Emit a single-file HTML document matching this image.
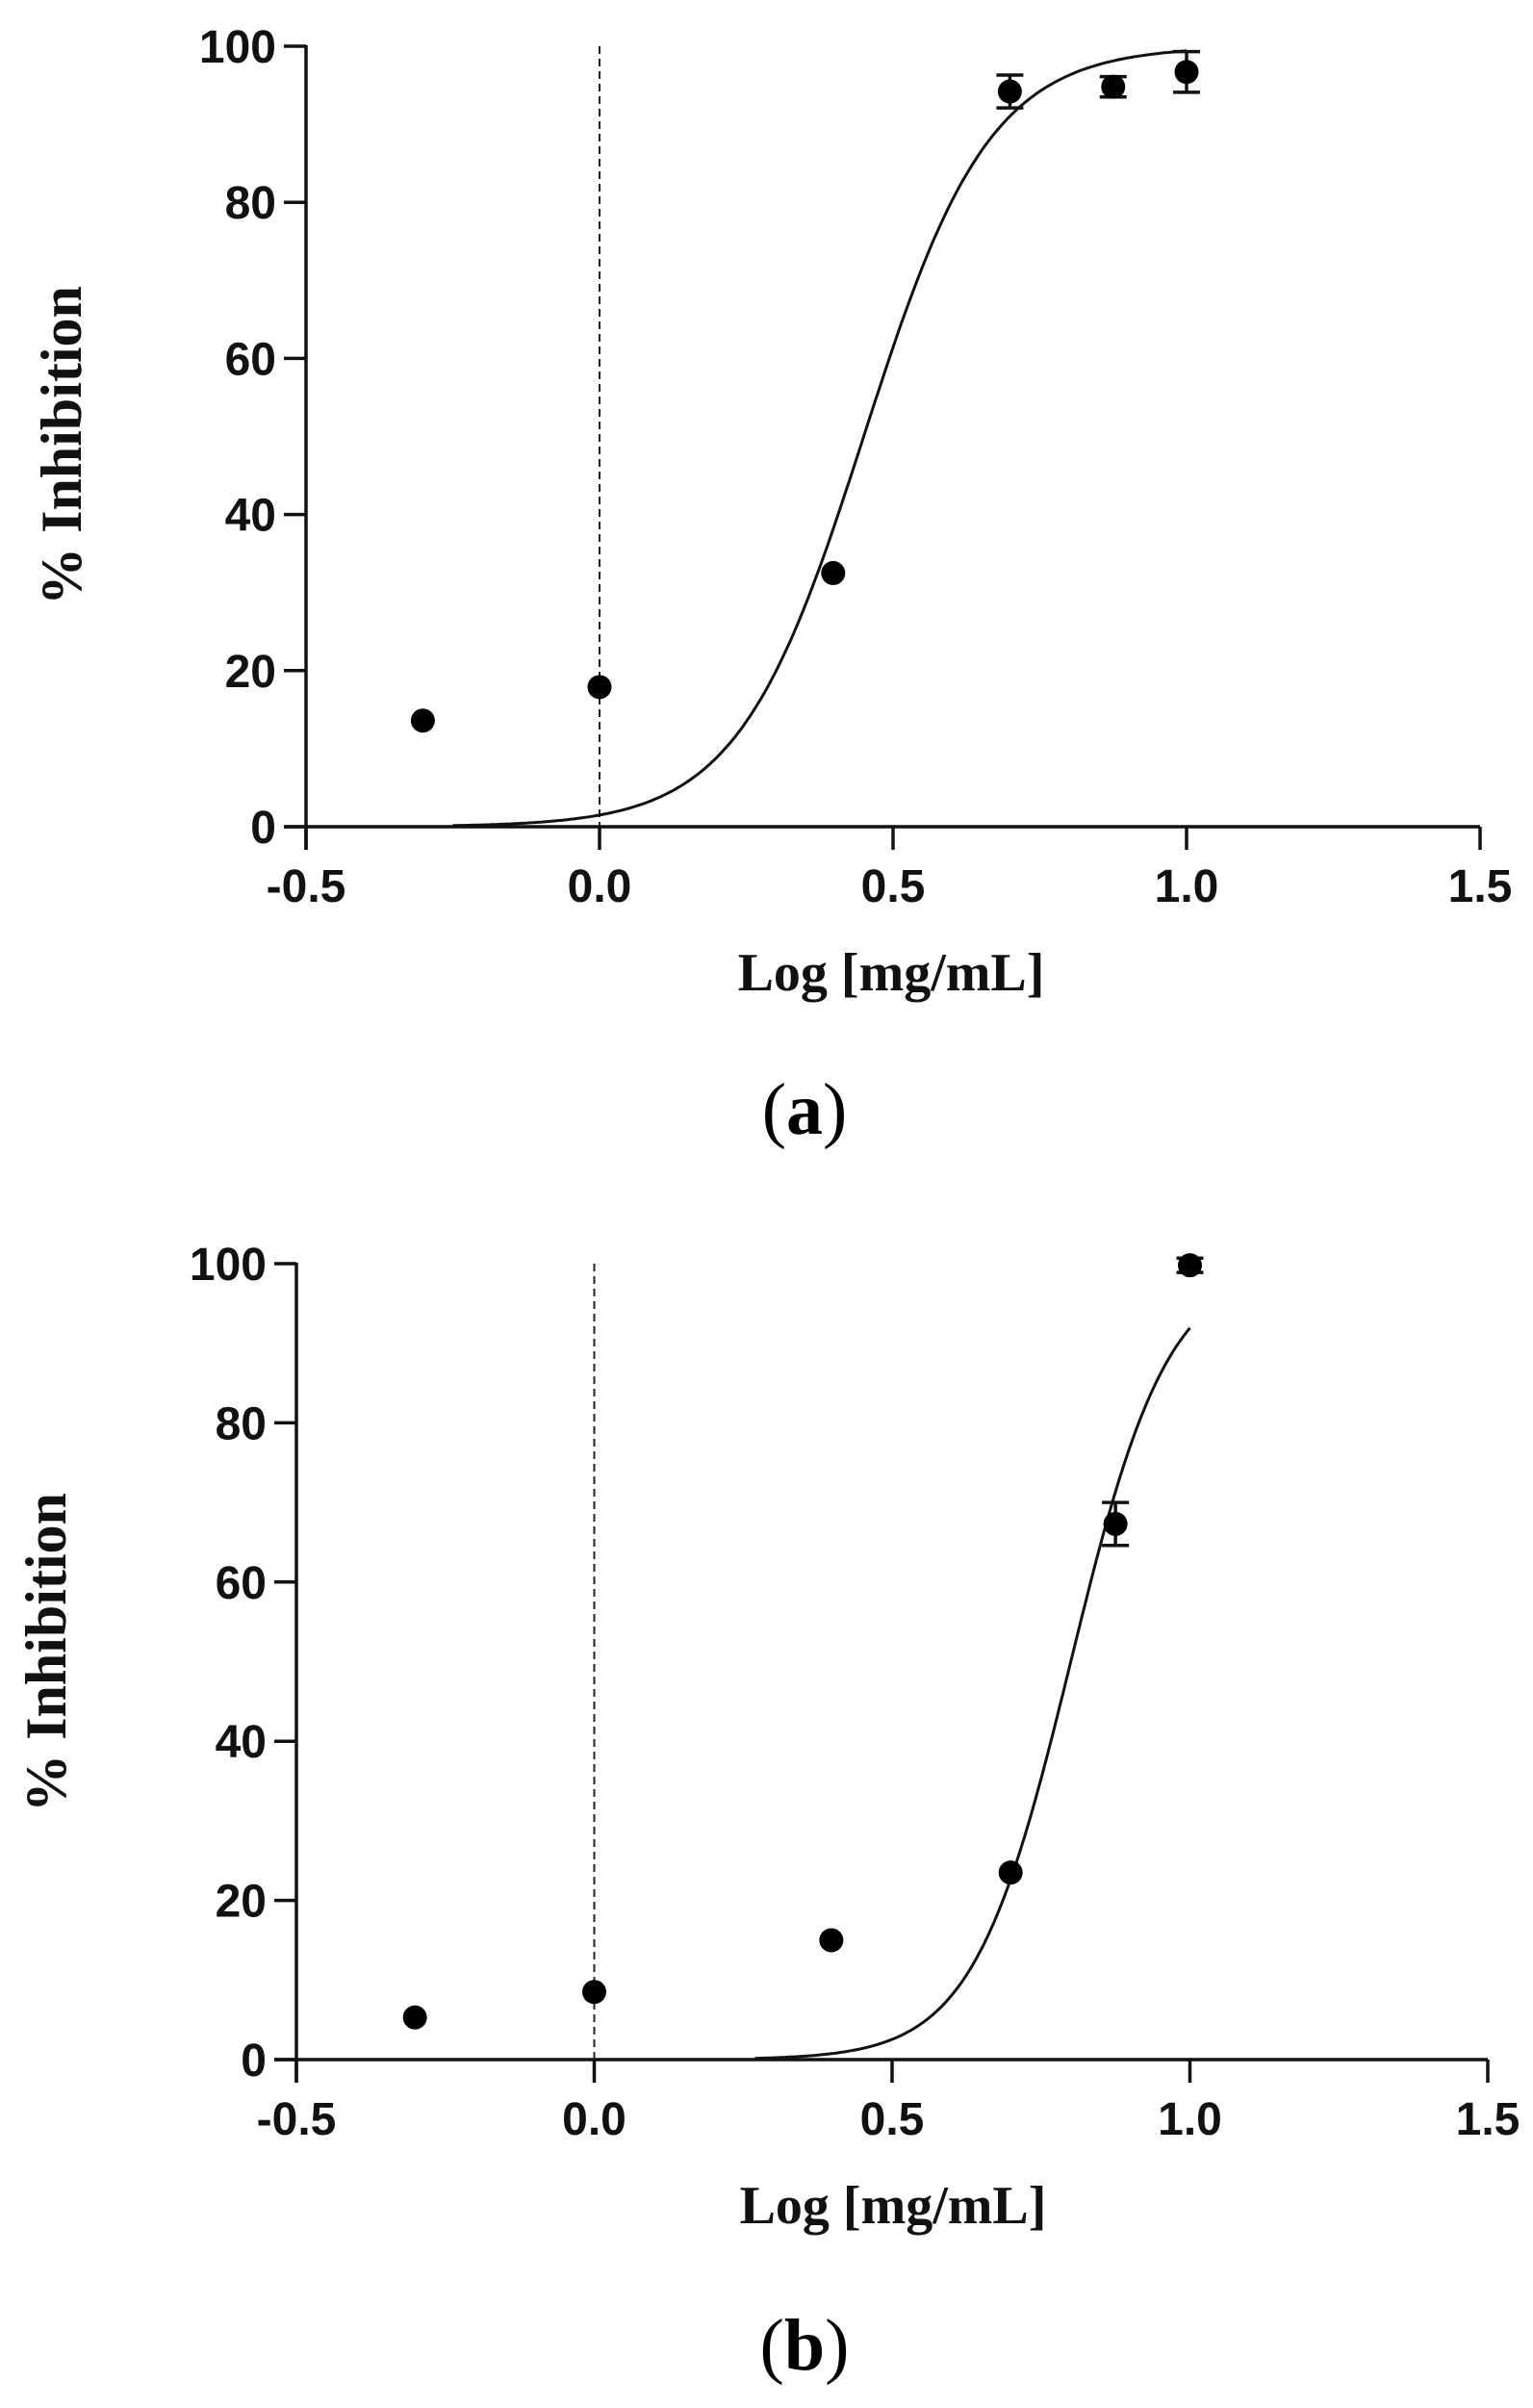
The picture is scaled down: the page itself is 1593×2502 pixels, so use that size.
<!DOCTYPE html>
<html><head><meta charset="utf-8"><style>
html,body{margin:0;padding:0;background:#fff;}
svg{display:block;}
</style></head><body>
<svg id="fig" width="1593" height="2502" viewBox="0 0 1593 2502" xmlns="http://www.w3.org/2000/svg"></svg>
<script>
// Panel (a) data
const xCatsA = [-0.301, 0, 0.398, 0.699, 0.875, 1.0];
const yValsA = [13.6, 17.9, 32.5, 94.2, 94.8, 96.7];
const yErrA  = [0, 0, 0, 2.1, 1.3, 2.6];
const fitA   = [0, 100, 0.45, 4.04]; // bottom, top, logEC50, hill
const fitRangeA = [-0.25, 1.0];
// Panel (b) data
const xCatsB = [-0.301, 0, 0.398, 0.699, 0.875, 1.0];
const yValsB = [5.3, 8.5, 15.0, 23.5, 67.3, 99.8];
const yErrB  = [0, 0, 0, 0, 2.7, 0.9];
const fitB   = [0, 100, 0.80, 5.28];
const fitRangeB = [0.27, 1.0];
// Axis ticks
const xTicks = [-0.5, 0.0, 0.5, 1.0, 1.5];
const xTickLabels = ["-0.5", "0.0", "0.5", "1.0", "1.5"];
const yTicks = [0, 20, 40, 60, 80, 100];
const yTickLabels = ["0", "20", "40", "60", "80", "100"];

const NS = "http://www.w3.org/2000/svg";
const svg = document.getElementById('fig');
function mk(tag, attrs, parent) {
  const e = document.createElementNS(NS, tag);
  for (const k in attrs) e.setAttribute(k, attrs[k]);
  (parent || svg).appendChild(e);
  return e;
}

function panel(cfg) {
  const g = mk('g', {});
  
  
  const sx = v => cfg.x0 + (v - (-0.5)) / 2.0 * (cfg.x1 - cfg.x0);
  const sy = v => cfg.y0 - v / 100 * (cfg.y0 - cfg.y100);

  // dashed reference line at x=0
  const dl = mk('line', {x1: sx(0), x2: sx(0), y1: cfg.y100, y2: cfg.y0 + 24, stroke: '#222', 'stroke-width': 2, 'stroke-dasharray': '8 5'}, g);
  
  

  // axes
  const ya = mk('line', {x1: cfg.x0, x2: cfg.x0, y1: cfg.y100 - 1, y2: cfg.y0 + 24, stroke: '#111', 'stroke-width': 3.5}, g);
  
  
  const xa = mk('line', {x1: cfg.x0 - 23, x2: cfg.x1, y1: cfg.y0, y2: cfg.y0, stroke: '#111', 'stroke-width': 3.5}, g);
  
  

  yTicks.forEach((t, i) => {
    const y = sy(t);
    mk('line', {x1: cfg.x0 - 23, x2: cfg.x0, y1: y, y2: y, stroke: '#111', 'stroke-width': 3.5}, g);
    const tx = mk('text', {x: cfg.x0 - 31, y: y + 17, 'text-anchor': 'end', 'font-family': 'Liberation Sans, Arial, sans-serif', 'font-weight': 'bold', 'font-size': 48, fill: '#111'}, g);
    tx.textContent = yTickLabels[i];
    
    
  });
  xTicks.forEach((t, i) => {
    const x = sx(t);
    mk('line', {x1: x, x2: x, y1: cfg.y0, y2: cfg.y0 + 24, stroke: '#111', 'stroke-width': 3.5}, g);
    const tx = mk('text', {x: x, y: cfg.y0 + 78, 'text-anchor': 'middle', 'font-family': 'Liberation Sans, Arial, sans-serif', 'font-weight': 'bold', 'font-size': 48, fill: '#111'}, g);
    tx.textContent = xTickLabels[i];
    
    
  });

  // fitted curve
  const f = cfg.fit;
  let d = '';
  const n = 200;
  for (let i = 0; i <= n; i++) {
    const xv = cfg.range[0] + (cfg.range[1] - cfg.range[0]) * i / n;
    const yv = f[0] + (f[1] - f[0]) / (1 + Math.pow(10, (f[2] - xv) * f[3]));
    d += (i ? 'L' : 'M') + sx(xv).toFixed(1) + ',' + sy(yv).toFixed(1);
  }
  const c = mk('path', {d: d, fill: 'none', stroke: '#111', 'stroke-width': 3}, g);
  
  

  // points with error bars
  cfg.xs.forEach((xv, i) => {
    const cx = sx(xv), cy = sy(cfg.ys[i]), e = cfg.errs[i];
    if (e > 0) {
      const top = sy(cfg.ys[i] + e), bot = sy(cfg.ys[i] - e);
      const eb = mk('path', {d: `M${cx},${top}L${cx},${bot}M${cx-14},${top}L${cx+14},${top}M${cx-14},${bot}L${cx+14},${bot}`, stroke: '#111', 'stroke-width': 3.5, fill: 'none'}, g);
      
      
    }
    const p = mk('circle', {cx: cx, cy: cy, r: 12.5, fill: '#000'}, g);
    
    
  });

  // titles
  const yt = mk('text', {x: 0, y: 0, transform: `translate(${cfg.ytX},${cfg.ytY}) rotate(-90)`, 'text-anchor': 'middle', 'font-family': 'Liberation Serif, Times New Roman, serif', 'font-weight': 'bold', 'font-size': 60, fill: '#111'}, g);
  yt.textContent = '% Inhibition';
  
  
  const xt = mk('text', {x: cfg.xtX, y: cfg.xtY, 'text-anchor': 'middle', 'font-family': 'Liberation Serif, Times New Roman, serif', 'font-weight': 'bold', 'font-size': 56, fill: '#111'}, g);
  xt.textContent = 'Log [mg/mL]';
  
  
  const pl = mk('text', {x: cfg.plX, y: cfg.plY, 'text-anchor': 'middle', 'font-family': 'Liberation Serif, Times New Roman, serif', 'font-size': 76, fill: '#000'}, g);
  pl.innerHTML = '(<tspan font-weight="bold">' + cfg.label + '</tspan>)';
  
  
}

panel({name: 'chart-a', x0: 318, x1: 1538, y0: 859, y100: 48, xs: xCatsA, ys: yValsA, errs: yErrA, fit: fitA, range: fitRangeA,
  ytX: 84, ytY: 463, xtX: 926, xtY: 1029, plX: 836, plY: 1178, label: 'a'});
panel({name: 'chart-b', x0: 308, x1: 1546, y0: 2140, y100: 1313, xs: xCatsB, ys: yValsB, errs: yErrB, fit: fitB, range: fitRangeB,
  ytX: 68, ytY: 1717, xtX: 928, xtY: 2310, plX: 836, plY: 2462, label: 'b'});
</script>
</body></html>
